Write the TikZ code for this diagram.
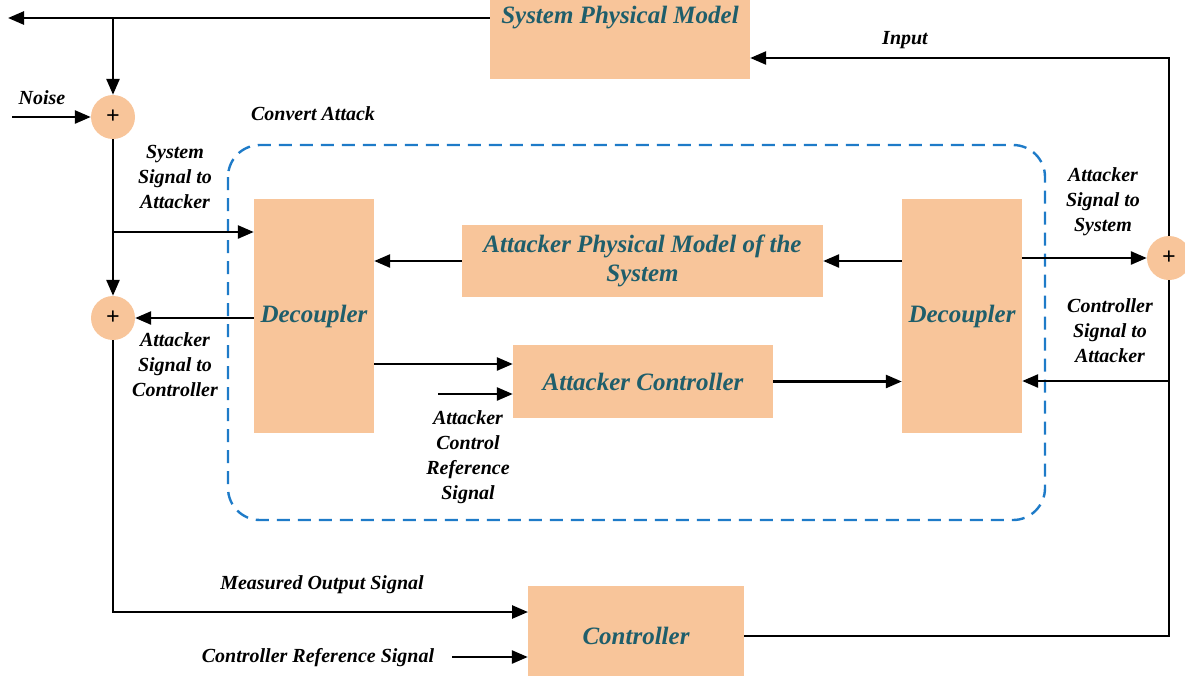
\documentclass[tikz,border=0pt]{standalone}
\usepackage{fontspec}
\setmainfont{Liberation Serif}
\usetikzlibrary{arrows.meta, calc, positioning}

\definecolor{boxFill}{HTML}{F8C59A}
\definecolor{boxText}{HTML}{1F5E6B}
\definecolor{attackBlue}{HTML}{1E7BC8}

\begin{document}
\begin{tikzpicture}[x=1pt, y=-1pt,
    block/.style={fill=boxFill, draw=none, text=boxText, align=center, inner sep=0pt,
        font=\fontsize{25}{29}\selectfont\bfseries\itshape},
    sum/.style={circle, fill=boxFill, minimum size=44pt, inner sep=0pt,
        font=\fontsize{24}{24}\selectfont\bfseries},
    sig/.style={draw, line width=2.6pt, -{Triangle[length=16pt, width=13pt]}},
    wire/.style={draw, line width=2.6pt},
    lbl/.style={font=\fontsize{20}{25}\selectfont\bfseries\itshape, align=center, inner sep=0pt}]

    \useasboundingbox (0, 0) rectangle (1185, 675);

    % Draw blocks
    \node[block, minimum width=260pt, minimum height=122pt] (spm) at (620, 18) {System Physical Model};
    \node[block, minimum width=120pt, minimum height=234pt] (decL) at (314, 316) {Decoupler};
    \node[block, minimum width=120pt, minimum height=234pt] (decR) at (962, 316) {Decoupler};
    \node[block, minimum width=361pt, minimum height=72pt] (apm) at (642.5, 261) {Attacker Physical Model of the\\System};
    \node[block, minimum width=260pt, minimum height=73pt] (actrl) at (643, 381.5) {Attacker Controller};
    \node[block, minimum width=216pt, minimum height=100pt] (ctrl) at (636, 636) {Controller};

    % Draw summing junctions
    \node[sum] (sumN) at (113, 117) {+};
    \node[sum] (sumA) at (113, 318) {+};
    \node[sum] (sumS) at (1169, 258) {+};

    % Draw attack region
    \draw[attackBlue, line width=2.4pt, dash pattern=on 13pt off 8pt, rounded corners=32pt]
        (228, 145) rectangle (1045, 520);

    % Free ends and taps
    \coordinate (outEnd) at (8, 18);
    \coordinate (outTap) at (113, 18);
    \coordinate (noiseIn) at (12, 117);
    \coordinate (sysTap) at (113, 232);
    \coordinate (decOut) at (374, 364);
    \coordinate (refIn) at (438, 394);
    \coordinate (measIn) at (528, 612);
    \coordinate (ctrlRefIn) at (452, 657);
    \coordinate (inTop) at (1169, 58);
    \coordinate (ctrlTap) at (1169, 381);

    % Draw system side
    \draw[sig] (spm.west) -- (outEnd);
    \draw[sig] (outTap) -- (sumN.north);
    \draw[sig] (noiseIn) -- (sumN.west);
    \draw[sig] (sumN.south) -- (sumA.north);
    \draw[sig] (sysTap) -- (sysTap -| decL.west);
    \draw[sig] (decL.west |- sumA.east) -- (sumA.east);
    \draw[sig] (sumA.south) |- (measIn);
    \draw[sig] (ctrlRefIn) -- (ctrlRefIn -| ctrl.west);

    % Draw attacker internals
    \draw[sig] (apm.west) -- (apm.west -| decL.east);
    \draw[sig] (decR.west |- apm.east) -- (apm.east);
    \draw[sig] (decOut) -- (decOut -| actrl.west);
    \draw[sig] (refIn) -- (refIn -| actrl.west);
    \draw[sig] (actrl.east) -- (actrl.east -| decR.west);
    \draw[sig] (decR.east |- sumS.west) -- (sumS.west);

    % Draw controller feedback
    \draw[wire] (ctrl.east) -- (ctrl.east -| sumS) -- (sumS.south);
    \draw[sig] (sumS.north) -- (inTop) -- (inTop -| spm.east);
    \draw[sig] (ctrlTap) -- (ctrlTap -| decR.east);

    % Label signals
    \node[lbl] (lNoise) at (42, 98) {Noise};
    \node[lbl] (lConvert) at (313, 114) {Convert Attack};
    \node[lbl] (lSysSig) at (175, 177) {System\\Signal to\\Attacker};
    \node[lbl] (lAttCtrl) at (175, 365) {Attacker\\Signal to\\Controller};
    \node[lbl] (lAttRef) at (468, 457) {Attacker\\Control\\Reference\\Signal};
    \node[lbl] (lAttSys) at (1103, 202) {Attacker\\Signal to\\System};
    \node[lbl] (lCtrlAtt) at (1110, 331) {Controller\\Signal to\\Attacker};
    \node[lbl] (lInput) at (905, 40) {Input};
    \node[lbl] (lMeas) at (322, 585) {Measured Output Signal};
    \node[lbl] (lCtrlRef) at (318, 658) {Controller Reference Signal};
\end{tikzpicture}
\end{document}
